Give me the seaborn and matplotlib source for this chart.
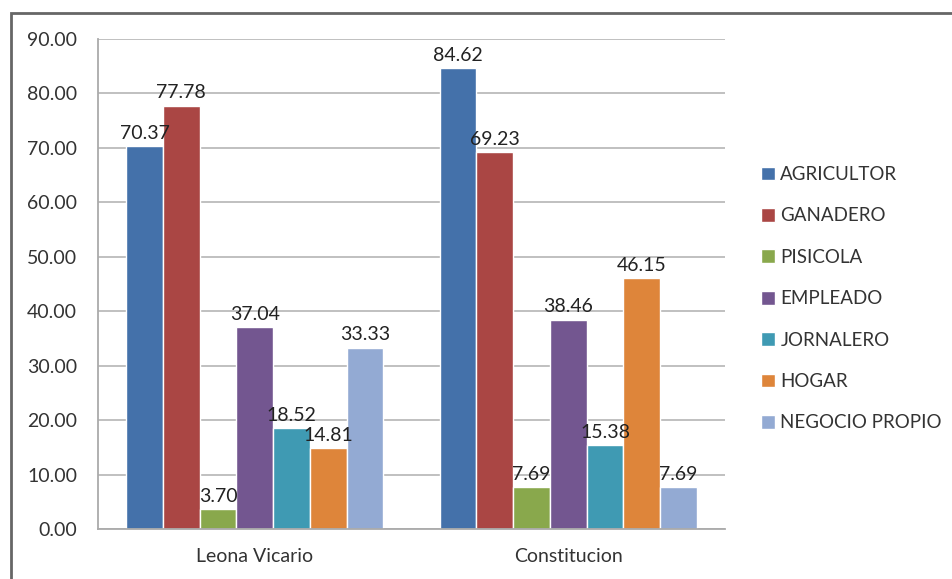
import pandas as pd
import matplotlib.pyplot as plt
import seaborn as sns
from matplotlib.patches import Rectangle

# Data
places = ["Leona Vicario", "Constitucion"]
occupations = ["AGRICULTOR", "GANADERO", "PISICOLA", "EMPLEADO",
               "JORNALERO", "HOGAR", "NEGOCIO PROPIO"]
leona = [70.37, 77.78, 3.70, 37.04, 18.52, 14.81, 33.33]
constitucion = [84.62, 69.23, 7.69, 38.46, 15.38, 46.15, 7.69]

colors = ["#4471AA", "#AA4644", "#89A84C", "#735690",
          "#3F9AB3", "#DE853A", "#93AAD3"]

rows = []
for place, vals in zip(places, [leona, constitucion]):
    for occ, v in zip(occupations, vals):
        rows.append({"place": place, "occupation": occ, "pct": v})
df = pd.DataFrame(rows)

sns.set_style("white")
plt.rcParams["font.family"] = ["Lato", "DejaVu Sans"]

fig = plt.figure(figsize=(9.53, 5.79), dpi=100)
ax = fig.add_axes([0.1028, 0.0864, 0.658, 0.8462])

sns.barplot(data=df, x="place", y="pct", hue="occupation",
            hue_order=occupations, palette=colors, width=0.82,
            saturation=1, ax=ax, legend=True)

for cont in ax.containers:
    ax.bar_label(cont, fmt="%.2f", padding=3, fontsize=14, color="#222222")

ax.set_xlim(-0.5, 1.5)
ax.set_ylim(0, 90)
ax.set_yticks(range(0, 91, 10))
ax.set_yticklabels([f"{v:.2f}" for v in range(0, 91, 10)])
ax.yaxis.grid(True, color="#BBBBBB", linewidth=1.3)
ax.set_axisbelow(True)
ax.set_xlabel("")
ax.set_ylabel("")

for side in ["top", "right"]:
    ax.spines[side].set_visible(False)
for side in ["left", "bottom"]:
    ax.spines[side].set_color("#AAAAAA")
    ax.spines[side].set_linewidth(1.3)

ax.tick_params(axis="y", length=6, color="#AAAAAA", labelsize=14,
               labelcolor="#333333", pad=9)
ax.tick_params(axis="x", which="major", length=0, labelsize=14,
               labelcolor="#333333", pad=14)
ax.set_xticks([-0.5, 0.5, 1.5], minor=True)
ax.tick_params(axis="x", which="minor", length=6, color="#AAAAAA")

handles, labels = ax.get_legend_handles_labels()
ax.legend(handles, labels, loc="center left", bbox_to_anchor=(1.03, 0.47),
          frameon=False, fontsize=13.5, labelspacing=1.3,
          handlelength=0.75, handleheight=0.75, handletextpad=0.3,
          labelcolor="#333333")

# outer chart frame
fig.patches.append(Rectangle((11 / 953, -0.05), 1.0, 1 - 13 / 579 + 0.05,
                             transform=fig.transFigure, fill=False,
                             edgecolor="#666666", linewidth=2))

fig.savefig("out.png", dpi=100)
